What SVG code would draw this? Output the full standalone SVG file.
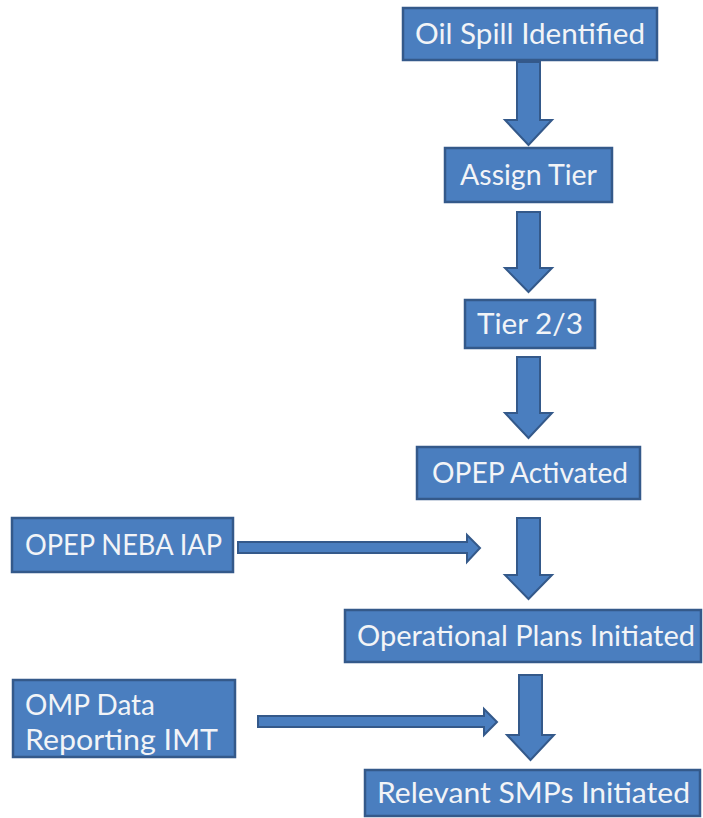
<svg xmlns="http://www.w3.org/2000/svg" width="703" height="818" viewBox="0 0 703 818">
<style>
.box{fill:#4a7ebf;stroke:#34598a;stroke-width:2.5}
.arr{fill:#4a7ebf;stroke:#34598a;stroke-width:2;stroke-linejoin:miter}
.t{font-family:Lato,"Open Sans",sans-serif;font-size:28px;fill:#f2f4f7}
.c{text-anchor:middle}
</style>
<rect width="703" height="818" fill="#ffffff"/>
<g id="connectors">
<path class="arr" d="M517,62 H540 V120 H552 L528.5,145 L505,120 H517 Z"/>
<path class="arr" d="M517,212 H540 V268 H552 L528.5,292 L505,268 H517 Z"/>
<path class="arr" d="M517,357 H540 V413 H552 L528.5,438 L505,413 H517 Z"/>
<path class="arr" d="M517,518 H540 V575 H552 L528.5,599 L505,575 H517 Z"/>
<path class="arr" d="M519,675 H542 V735 H554 L530.5,760 L507,735 H519 Z"/>
<path class="arr" d="M238,542 H467 V535 L480,548 L467,562 V553 H238 Z"/>
<path class="arr" d="M258,716 H484 V709 L497,722 L484,735 V727 H258 Z"/>
</g>
<g id="n1"><rect class="box" x="403" y="8" width="254" height="52"/><text class="t" x="415" y="44" textLength="230" lengthAdjust="spacingAndGlyphs">Oil Spill Identified</text></g>
<g id="n2"><rect class="box" x="445" y="148" width="167" height="54"/><text class="t" x="460" y="185" textLength="137" lengthAdjust="spacingAndGlyphs">Assign Tier</text></g>
<g id="n3"><rect class="box" x="465" y="300" width="130" height="48"/><text class="t" x="477" y="334" textLength="106" lengthAdjust="spacingAndGlyphs">Tier 2/3</text></g>
<g id="n4"><rect class="box" x="417" y="447" width="223" height="52"/><text class="t" x="432" y="483" textLength="196" lengthAdjust="spacingAndGlyphs">OPEP Activated</text></g>
<g id="n5"><rect class="box" x="12" y="518" width="221" height="54"/><text class="t" x="25" y="555" textLength="197" lengthAdjust="spacingAndGlyphs">OPEP NEBA IAP</text></g>
<g id="n6"><rect class="box" x="345" y="610" width="356" height="52"/><text class="t" x="357" y="646" textLength="338" lengthAdjust="spacingAndGlyphs">Operational Plans Initiated</text></g>
<g id="n7"><rect class="box" x="13" y="680" width="222" height="77"/><text class="t" x="25" y="715" textLength="130" lengthAdjust="spacingAndGlyphs">OMP Data</text><text class="t" x="25" y="750" textLength="193" lengthAdjust="spacingAndGlyphs">Reporting IMT</text></g>
<g id="n8"><rect class="box" x="365" y="770" width="335" height="46"/><text class="t" x="377" y="803" textLength="313" lengthAdjust="spacingAndGlyphs">Relevant SMPs Initiated</text></g>
</svg>
